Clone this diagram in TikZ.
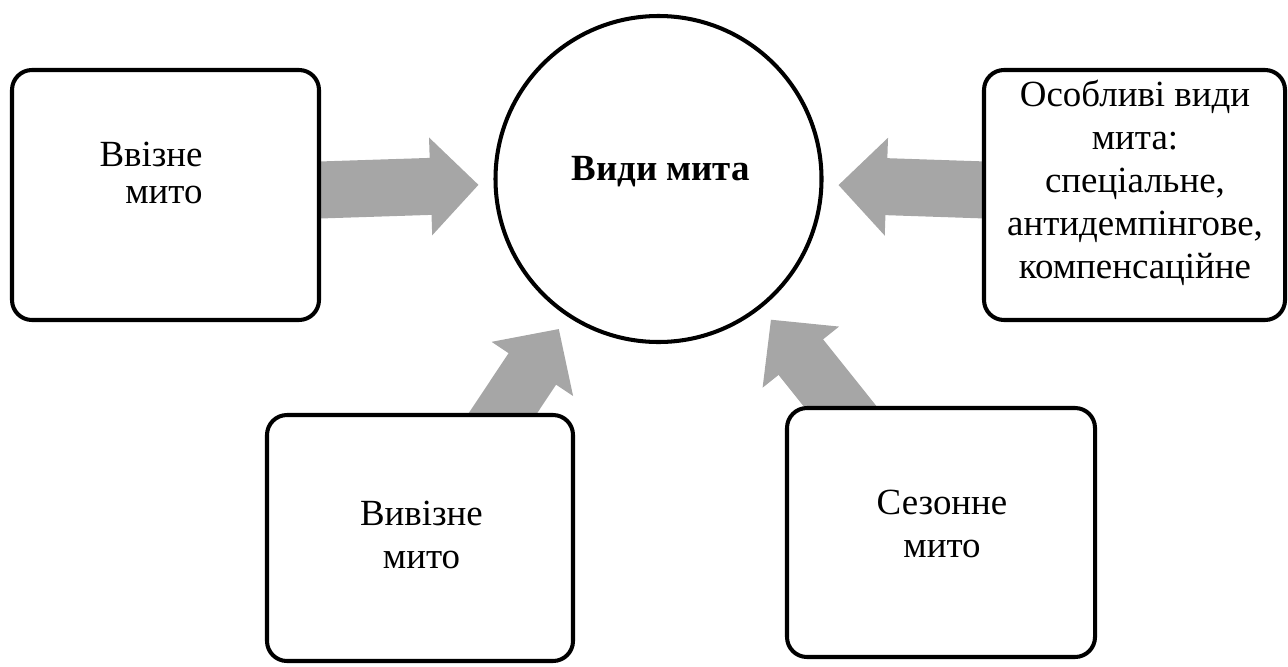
\documentclass[tikz,border=0pt]{standalone}
\usepackage{fontspec}
\setmainfont{Liberation Serif}
\usetikzlibrary{arrows.meta,backgrounds}
\definecolor{arrowgray}{RGB}{166,166,166}
\begin{document}
\begin{tikzpicture}[scale=0.2]
    \tikzstyle{every node}+=[inner sep=0pt, font=\fontsize{21}{24.5}\selectfont]
    \tikzstyle{typebox}=[draw, line width=2.3pt, rounded corners=0.4cm, fill=white]
    \tikzstyle{fatarrow}=[arrowgray, line width=1.14cm, shorten >=0.3cm, -{Triangle[length=0.96cm,width=1.9cm]}]
    \useasboundingbox (0,0) rectangle (128.8,-66.6);
    % centre
    \node (vydy) [circle, draw, line width=2.3pt, fill=white, minimum size=6.52cm] at (65.85,-17.9) {};
    \node (vydy-t) [anchor=base, font=\fontsize{21}{24.5}\selectfont\bfseries] at (66.08,-18.0) {Види мита};
    % boxes
    \node (vvizne) [typebox, minimum width=6.14cm, minimum height=5.0cm] at (16.55,-19.5) {};
    \node (vvizne-t) [align=right, font=\fontsize{21}{20.9}\selectfont] at (15.1,-17.3) {Ввізне\\мито};
    \node (osobl) [typebox, minimum width=6.02cm, minimum height=5.0cm] at (113.45,-19.5) {};
    \node (osobl-t) [align=center] at (113.5,-18.25) {Особливі види\\мита:\\спеціальне,\\антидемпінгове,\\компенсаційне};
    \node (vyvizne) [typebox, minimum width=6.12cm, minimum height=4.92cm] at (42.0,-53.8) {};
    \node (vyvizne-t) [align=center] at (42.15,-53.5) {Вивізне\\мито};
    \node (sezon) [typebox, minimum width=6.16cm, minimum height=4.98cm] at (94.1,-53.25) {};
    \node (sezon-t) [align=center] at (94.2,-52.4) {Сезонне\\мито};
    % arrows
    \begin{scope}[on background layer]
    \draw [fatarrow] (vvizne.center) -- (vydy);
    \draw [fatarrow] (osobl.center) -- (vydy);
    \draw [fatarrow] (vyvizne.center) -- (vydy);
    \draw [fatarrow] (sezon.center) -- (vydy);
    \end{scope}
\end{tikzpicture}
\end{document}
